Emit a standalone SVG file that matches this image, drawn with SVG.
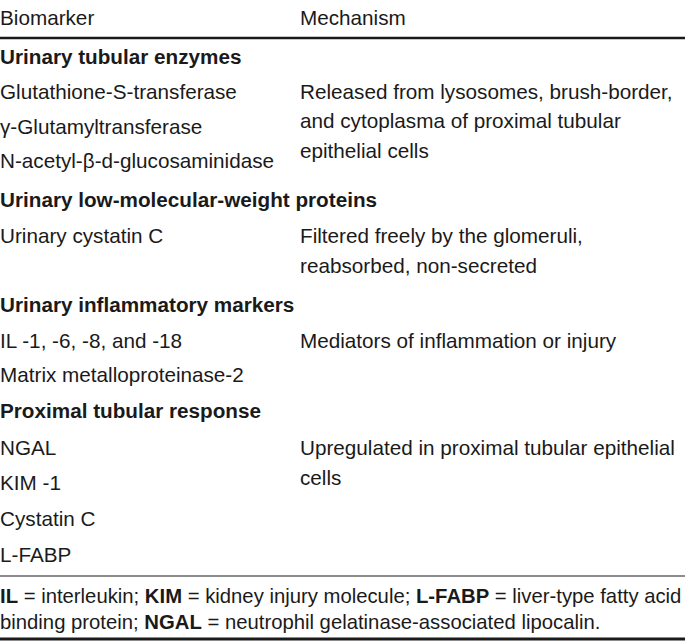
<svg xmlns="http://www.w3.org/2000/svg" width="685" height="641" viewBox="0 0 685 641">
<style>
text{font-family:"Liberation Sans",Arial,Helvetica,sans-serif;font-size:20.7px;fill:#1a1a1a}
.b{font-weight:bold}
.f{font-size:20.3px}
.rule{stroke:#1a1a1a}
</style>
<rect width="685" height="641" fill="#fff"/>
<g id="header">
<text x="0" y="25">Biomarker</text>
<text x="300" y="25">Mechanism</text>
</g>
<g id="rules">
<line class="rule" x1="0" y1="38" x2="685" y2="38" stroke-width="2.5"/>
<line class="rule" x1="0" y1="576" x2="685" y2="576" stroke-width="1.2"/>
<line class="rule" x1="0" y1="639" x2="685" y2="639" stroke-width="3"/>
</g>
<g id="sec1">
<text class="b" x="0" y="64">Urinary tubular enzymes</text>
<text x="0" y="99">Glutathione-S-transferase</text>
<text x="0" y="134">γ-Glutamyltransferase</text>
<text x="0" y="168">N-acetyl-β-d-glucosaminidase</text>
<text x="300" y="99">Released from lysosomes, brush-border,</text>
<text x="300" y="128">and cytoplasma of proximal tubular</text>
<text x="300" y="158">epithelial cells</text>
</g>
<g id="sec2">
<text class="b" x="0" y="207">Urinary low-molecular-weight proteins</text>
<text x="0" y="243">Urinary cystatin C</text>
<text x="300" y="243">Filtered freely by the glomeruli,</text>
<text x="300" y="273">reabsorbed, non-secreted</text>
</g>
<g id="sec3">
<text class="b" x="0" y="312">Urinary inflammatory markers</text>
<text x="0" y="348">IL -1, -6, -8, and -18</text>
<text x="300" y="348">Mediators of inflammation or injury</text>
<text x="0" y="382">Matrix metalloproteinase-2</text>
</g>
<g id="sec4">
<text class="b" x="0" y="418">Proximal tubular response</text>
<text x="0" y="455">NGAL</text>
<text x="300" y="455">Upregulated in proximal tubular epithelial</text>
<text x="300" y="485">cells</text>
<text x="0" y="490">KIM -1</text>
<text x="0" y="526">Cystatin C</text>
<text x="0" y="562">L-FABP</text>
</g>
<g id="footer">
<text class="f" x="0" y="603"><tspan class="b">IL</tspan> = interleukin; <tspan class="b">KIM</tspan> = kidney injury molecule; <tspan class="b">L-FABP</tspan> = liver-type fatty acid</text>
<text class="f" x="0" y="629">binding protein; <tspan class="b">NGAL</tspan> = neutrophil gelatinase-associated lipocalin.</text>
</g>
</svg>
